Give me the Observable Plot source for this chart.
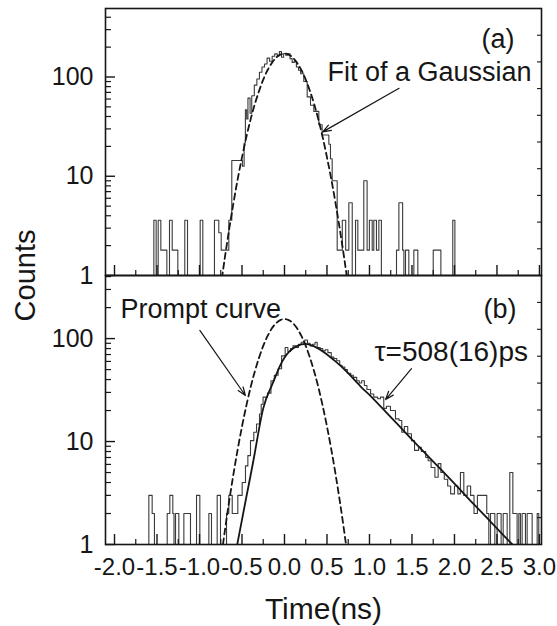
<!DOCTYPE html>
<html><head><meta charset="utf-8">
<script src="https://cdn.jsdelivr.net/npm/d3@7"></script>
<script src="https://cdn.jsdelivr.net/npm/@observablehq/plot@0.6"></script>
<style>
body{margin:0;background:#fff;}
#wrap{width:557px;height:626px;}
#wrap svg{display:block;}
</style></head>
<body><div id="wrap"></div>
<script>
// ---- axis ticks ----
const xTicks = [-2.0,-1.5,-1.0,-0.5,0.0,0.5,1.0,1.5,2.0,2.5,3.0];
const xMinorTicks = [-1.75,-1.25,-0.75,-0.25,0.25,0.75,1.25,1.75,2.25,2.75];
const yTicks = [1,10,100];
const yMinorTicks = [2,3,4,5,6,7,8,9,20,30,40,50,60,70,80,90,200,300,400];

// ---- panel (a): histogram (run start time in ns, plotted counts) ----
const histA_t = [-1.60,-1.537,-1.51,-1.486,-1.455,-1.384,-1.353,-1.321,-1.255,-1.173,-1.141,-0.992,-0.961,-0.824,-0.773,-0.745,-0.655,-0.62,-0.495,-0.475,-0.46,-0.445,-0.43,-0.405,-0.385,-0.355,-0.325,-0.295,-0.265,-0.235,-0.205,-0.175,-0.145,-0.115,-0.085,-0.06,-0.035,-0.01,0.015,0.04,0.065,0.09,0.115,0.14,0.165,0.19,0.227,0.267,0.306,0.345,0.404,0.443,0.522,0.541,0.561,0.62,0.68,0.72,0.757,0.797,0.836,0.863,0.933,0.972,0.999,1.032,1.051,1.082,1.11,1.14,1.318,1.346,1.39,1.405,1.424,1.463,1.522,1.569,1.75,1.84,1.98,2.005,2.10];
const histA_n = [1,3.6,1,3.6,1.8,1,3.6,1.8,1,3.6,1,3.6,1,3.6,2.7,1.8,3.6,14.4,12.6,21.6,46.8,37.8,61.2,43.2,64.8,82.8,95.4,111.6,126,135,154.8,144,162,171,163.8,180,158.4,172.8,165.6,171,153,140.4,144,126,117,108,90,63,52,45,33,26,21,15,9,1.8,3.6,1.8,5.4,1,3.6,1.8,9,1.8,3.6,1.8,3.6,1.8,3.6,1,1.8,5.4,1.8,1,1.8,1,1.8,1,1.8,1,3.6,1,1];
// Gaussian fit (dashed)
const fitA_t = [-0.80,-0.75,-0.70,-0.65,-0.60,-0.55,-0.50,-0.45,-0.40,-0.35,-0.30,-0.25,-0.20,-0.15,-0.10,-0.05,0.00,0.05,0.10,0.15,0.20,0.25,0.30,0.35,0.40,0.45,0.50,0.55,0.60,0.65,0.70,0.75,0.80];
const fitA_n = [0.37,0.77,1.55,2.96,5.4,9.4,15.5,24.6,37,53,72,94,117,138,156,168,172,168,156,138,117,94,72,53,37,24.6,15.5,9.4,5.4,2.96,1.55,0.77,0.37];

// ---- panel (b): histogram ----
const histB_t = [-1.62,-1.596,-1.557,-1.53,-1.38,-1.349,-1.314,-1.30,-1.282,-1.243,-1.184,-1.106,-1.035,-0.996,-0.89,-0.859,-0.792,-0.753,-0.682,-0.655,-0.615,-0.549,-0.498,-0.459,-0.431,-0.40,-0.361,-0.329,-0.294,-0.274,-0.252,-0.20,-0.159,-0.12,-0.075,-0.034,0.008,0.04,0.071,0.10,0.13,0.165,0.197,0.239,0.27,0.301,0.33,0.36,0.385,0.42,0.45,0.48,0.511,0.55,0.58,0.615,0.65,0.678,0.71,0.74,0.78,0.81,0.85,0.88,0.908,0.94,0.97,1.013,1.05,1.097,1.129,1.168,1.2,1.247,1.306,1.348,1.38,1.41,1.45,1.494,1.53,1.578,1.61,1.662,1.69,1.725,1.77,1.808,1.84,1.88,1.92,1.955,2.0,2.04,2.07,2.11,2.15,2.19,2.23,2.27,2.38,2.404,2.424,2.475,2.502,2.549,2.573,2.62,2.651,2.687,2.737,2.757,2.776,2.796,2.835,2.855,2.914,2.973,2.992,3.02];
const histB_n = [1,3,2,1,2,3,2,1,2,1,2,1,3,1,2,1,3,1,2,3,2,3,4,5.8,7.3,10.2,12.3,14.8,18.5,23,27,29.5,39,44,51,68,82,75,80,85,82,88,92,97,90,85,88,92,82,80,76,78,73,66,64,61,55,53,50,46,44,42,39,37,39,35,32,29,27,26,27,21,22,20,16.6,16,12.3,14,11.9,10.2,8.2,8.8,8,7,6.5,5.6,4.5,6.1,5,4.3,3.7,3.1,3.7,3.1,5,3,3.7,3,2,3,2,1,2,1,2,1,2,1,5,2,1,2,1,2,1,2,1,2,1,1];
// prompt curve (dashed)
const promptB_t = [-0.80,-0.75,-0.70,-0.65,-0.60,-0.55,-0.50,-0.45,-0.40,-0.35,-0.30,-0.25,-0.20,-0.15,-0.10,-0.05,0.00,0.05,0.10,0.15,0.20,0.25,0.30,0.35,0.40,0.45,0.50,0.55,0.60,0.65,0.70,0.75,0.80];
const promptB_n = [0.33,0.69,1.39,2.67,4.86,8.45,14.0,22.1,33.3,47.7,65,85,105.5,125,141,151,155,151,141,125,105.5,85,65,47.7,33.3,22.1,14.0,8.45,4.86,2.67,1.39,0.69,0.33];
// lifetime fit (solid)
const decayB_t = [-0.556,-0.45,-0.35,-0.25,-0.15,-0.05,0.05,0.15,0.25,0.35,0.46,0.60,0.74,0.90,1.00,1.20,1.40,1.60,1.80,2.00,2.20,2.40,2.60,2.70];
const decayB_n = [1.0,2.86,7.7,21,35,55,74,85,89,84,74,60,47,34,28.4,19.1,12.8,8.6,5.8,3.9,2.6,1.75,1.17,0.97];

const rows = (t, n) => t.map((x, i) => ({x, y: n[i]}));

const FONT = "'Liberation Sans', Arial, Helvetica, sans-serif";
const INK = "#161616";

function commonMarks(yTop) {
  const rightTicks = d3.range(1, 10).map(k => Math.pow(yTop, k / 10));
  return [
    Plot.axisY(yMinorTicks, {anchor: "left", tickSize: 6, dx: 6, fill: "none", stroke: INK, strokeWidth: 1.2, label: null}),
    Plot.axisY(yTicks, {anchor: "left", tickSize: 10, dx: 10, fill: "none", stroke: INK, strokeWidth: 1.4, label: null}),
    Plot.axisY(yTicks, {anchor: "left", tickSize: 0, tickPadding: 12, tickFormat: d => String(d), fontSize: 25, fill: INK, label: null}),
    Plot.axisY(rightTicks, {anchor: "right", tickSize: 5, dx: -5, fill: "none", stroke: INK, strokeWidth: 1.1, label: null}),
    Plot.axisX(xMinorTicks, {anchor: "bottom", tickSize: 5, dy: -5, fill: "none", stroke: INK, strokeWidth: 1.2, label: null}),
    Plot.axisX(xTicks, {anchor: "bottom", tickSize: 10, dy: -10, fill: "none", stroke: INK, strokeWidth: 1.4, label: null}),
    Plot.frame({stroke: INK, strokeWidth: 1.6})
  ];
}

const baseStyle = {fontFamily: FONT, fontSize: "22px", background: "none", overflow: "visible", color: INK};
const xScale = {type: "linear", domain: [-2.106, 3.024], axis: null};

const plotA = Plot.plot({
  width: 557, height: 276, marginLeft: 105, marginRight: 16, marginTop: 8, marginBottom: 1,
  x: xScale,
  y: {type: "log", domain: [1, 490], axis: null},
  style: baseStyle,
  marks: [
    Plot.line(rows(histA_t, histA_n), {x: "x", y: "y", curve: "step-after", stroke: "#3a3a3a", strokeWidth: 1.1}),
    Plot.line(rows(fitA_t, fitA_n), {x: "x", y: "y", curve: "natural", stroke: INK, strokeWidth: 1.8, strokeDasharray: "6,4", clip: true}),
    Plot.arrow([{x1: 1.348, y1: 77, x2: 0.45, y2: 28}], {x1: "x1", y1: "y1", x2: "x2", y2: "y2", stroke: INK, strokeWidth: 1.2, headLength: 11, headAngle: 40}),
    Plot.text(["Fit of a Gaussian"], {frameAnchor: "top-left", dx: 222, dy: 72, textAnchor: "start", lineAnchor: "bottom", fontSize: 27, fill: INK}),
    Plot.text(["(a)"], {frameAnchor: "top-left", dx: 409, dy: 39, textAnchor: "end", lineAnchor: "bottom", fontSize: 27, fill: INK}),
    Plot.text(["Counts"], {frameAnchor: "bottom-left", dx: -71, rotate: -90, textAnchor: "middle", lineAnchor: "bottom", fontSize: 29, fill: INK}),
    ...commonMarks(490)
  ]
});

const plotB = Plot.plot({
  width: 557, height: 350, marginLeft: 105, marginRight: 16, marginTop: 0, marginBottom: 81,
  x: xScale,
  y: {type: "log", domain: [1, 410], axis: null},
  style: baseStyle,
  marks: [
    Plot.line(rows(histB_t, histB_n), {x: "x", y: "y", curve: "step-after", stroke: "#3a3a3a", strokeWidth: 1.1}),
    Plot.line(rows(promptB_t, promptB_n), {x: "x", y: "y", curve: "natural", stroke: INK, strokeWidth: 1.8, strokeDasharray: "6,4", clip: true}),
    Plot.line(rows(decayB_t, decayB_n), {x: "x", y: "y", curve: "natural", stroke: INK, strokeWidth: 1.8, clip: true}),
    Plot.arrow([{x1: -0.996, y1: 120, x2: -0.46, y2: 28}], {x1: "x1", y1: "y1", x2: "x2", y2: "y2", stroke: INK, strokeWidth: 1.2, headLength: 11, headAngle: 40}),
    Plot.arrow([{x1: 1.494, y1: 51, x2: 1.19, y2: 25.6}], {x1: "x1", y1: "y1", x2: "x2", y2: "y2", stroke: INK, strokeWidth: 1.2, headLength: 11, headAngle: 40}),
    Plot.text(["Prompt curve"], {frameAnchor: "top-left", dx: 15, dy: 42, textAnchor: "start", lineAnchor: "bottom", fontSize: 27, fill: INK}),
    Plot.text(["(b)"], {frameAnchor: "top-left", dx: 411, dy: 42, textAnchor: "end", lineAnchor: "bottom", fontSize: 27, fill: INK}),
    Plot.text(["τ=508(16)ps"], {frameAnchor: "top-left", dx: 269, dy: 85, textAnchor: "start", lineAnchor: "bottom", fontSize: 28, fill: INK}),
    Plot.axisX(xTicks, {anchor: "bottom", tickSize: 0, tickPadding: 13, tickFormat: d => d.toFixed(1), fontSize: 24, fill: INK, label: null}),
    Plot.text(["Time(ns)"], {frameAnchor: "bottom", dy: 74, lineAnchor: "bottom", fontSize: 30, fill: INK}),
    ...commonMarks(410)
  ]
});
plotB.style.marginTop = "-1px";

const wrap = document.getElementById("wrap");
wrap.appendChild(plotA);
wrap.appendChild(plotB);
</script>
</body></html>
